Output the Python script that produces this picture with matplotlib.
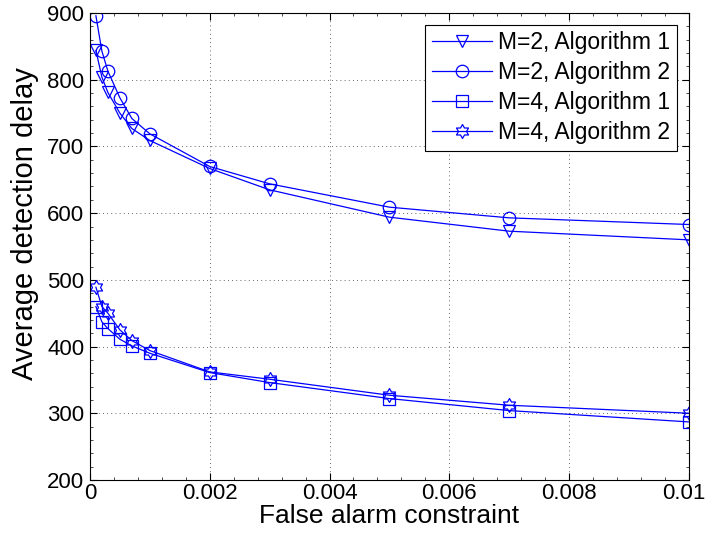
import numpy as np
import matplotlib
matplotlib.use("Agg")
import matplotlib.pyplot as plt
import matplotlib.transforms as mtransforms
from matplotlib.path import Path
from matplotlib.ticker import AutoMinorLocator

plt.rcParams['font.family'] = ['Liberation Sans', 'DejaVu Sans']

# False alarm constraint values
alpha = [0.0001, 0.0002, 0.0003, 0.0005, 0.0007, 0.001, 0.002, 0.003, 0.005, 0.007, 0.01]

# Average detection delay for each setting
m2_alg1 = [844, 804, 781, 750, 727, 709, 667, 635, 594, 573, 560]
m2_alg2 = [896, 843, 813, 773, 742, 719, 670, 644, 609, 593, 583]
m4_alg1 = [460, 437, 427, 411, 401, 390, 361, 346, 322, 304, 287]
m4_alg2 = [489, 460, 450, 425, 409, 394, 362, 351, 327, 312, 300]

labels = ['M=2, Algorithm 1', 'M=2, Algorithm 2', 'M=4, Algorithm 1', 'M=4, Algorithm 2']
x_ticks = [0, 0.002, 0.004, 0.006, 0.008, 0.01]
x_ticklabels = ['0', '0.002', '0.004', '0.006', '0.008', '0.01']

# six-pointed star (hexagram) marker
ang_out = np.deg2rad(90 + np.arange(6) * 60)
ang_in = ang_out + np.deg2rad(30)
r_in = 1 / np.sqrt(3)
verts = []
for ao, ai in zip(ang_out, ang_in):
    verts.append((np.cos(ao), np.sin(ao)))
    verts.append((r_in * np.cos(ai), r_in * np.sin(ai)))
verts.append(verts[0])
hexagram = Path(verts, [Path.MOVETO] + [Path.LINETO] * 11 + [Path.CLOSEPOLY])

fig = plt.figure(figsize=(7.08, 5.46), dpi=100)
ax = fig.add_axes([0.127, 0.121, 0.846, 0.855])

style = dict(color='#0000ff', linewidth=0.9, markerfacecolor='none',
             markeredgecolor='#0000ff', markeredgewidth=0.9)
ax.plot(alpha, m2_alg1, marker='v', markersize=9, label=labels[0], **style)
ax.plot(alpha, m2_alg2, marker='o', markersize=9, label=labels[1], **style)
ax.plot(alpha, m4_alg1, marker='s', markersize=8, label=labels[2], **style)
ax.plot(alpha, m4_alg2, marker=hexagram, markersize=10, label=labels[3], **style)

ax.set_xlim(0, 0.01)
ax.set_ylim(200, 900)
ax.set_xticks(x_ticks)
ax.set_xticklabels(x_ticklabels)
ax.set_yticks(range(200, 901, 100))
ax.xaxis.set_minor_locator(AutoMinorLocator(5))
ax.yaxis.set_minor_locator(AutoMinorLocator(5))

ax.grid(True, which='major', linestyle=(0, (1, 4)), color='black', linewidth=0.6, alpha=0.8)
ax.tick_params(which='major', direction='in', top=True, right=True, labelsize=16,
               length=5, width=0.8)
ax.tick_params(axis='x', which='major', pad=2)
ax.tick_params(axis='y', which='major', pad=4)
ax.tick_params(which='minor', direction='in', top=True, right=True, length=2.5, width=0.5)
for sp in ax.spines.values():
    sp.set_linewidth(0.8)

# keep the rightmost tick label inside the figure
last = ax.get_xticklabels()[-1]
last.set_transform(last.get_transform() +
                   mtransforms.ScaledTranslation(-4 / 72, 0, fig.dpi_scale_trans))

ax.set_xlabel('False alarm constraint', fontsize=19, labelpad=0)
ax.set_ylabel('Average detection delay', fontsize=21)
ax.yaxis.set_label_coords(-0.085, 0.55)

leg = ax.legend(loc='upper right', fontsize=16.5, numpoints=1, handlelength=2.6,
                fancybox=False, framealpha=1, edgecolor='black',
                borderaxespad=0.5, labelspacing=0.3, handletextpad=0.3,
                borderpad=0.3)
leg.get_frame().set_linewidth(0.8)

fig.savefig('out.png', dpi=100)
